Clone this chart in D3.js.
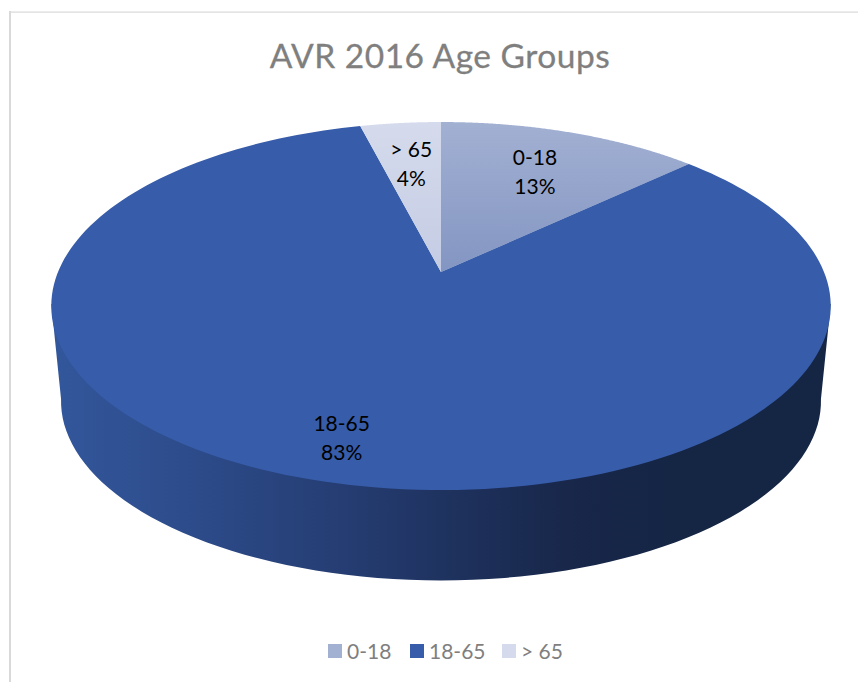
<!DOCTYPE html>
<html>
<head>
<meta charset="utf-8">
<script src="https://cdn.jsdelivr.net/npm/d3@7/dist/d3.min.js"></script>
<style>
html,body{margin:0;padding:0;background:#fff;}
svg{display:block;}
text{font-family:Lato,"Open Sans",sans-serif;}
</style>
</head>
<body>
<div id="chart"></div>
<script>
const chartTitle = "AVR 2016 Age Groups";
const categories = ["0-18", "18-65", "> 65"];
const values = [13, 83, 4];

const width = 858, height = 682;
const cx = 441, apexY = 272, radius = 383, persp = -0.185, spanY = 127.4;
const depthY = 95, depthScale = 0.975;
const labelRadius = [0.69, 0.825, 0.70];
const labelDx = [0, 4, 0];

const svg = d3.select("#chart").append("svg").attr("width", width).attr("height", height);
const defs = svg.append("defs");

function vGrad(id, y1, y2, c1, c2) {
  const g = defs.append("linearGradient").attr("id", id).attr("gradientUnits", "userSpaceOnUse")
    .attr("x1", 0).attr("x2", 0).attr("y1", y1).attr("y2", y2);
  g.append("stop").attr("offset", 0).attr("stop-color", c1);
  g.append("stop").attr("offset", 1).attr("stop-color", c2);
}
vGrad("g0", 122, 272, "#a2b0d2", "#8395c2");
vGrad("g2", 122, 272, "#d5dbec", "#c4cce4");
vGrad("l0", 644, 658, "#a2b0d2", "#8395c2");
vGrad("l2", 644, 658, "#d5dbec", "#c4cce4");
const side = defs.append("linearGradient").attr("id", "side").attr("gradientUnits", "userSpaceOnUse")
  .attr("x1", 51).attr("x2", 831).attr("y1", 0).attr("y2", 0);
[[0, "#33579c"], [0.2, "#2c4a88"], [0.4, "#243b6f"], [0.5, "#1f3360"], [0.66, "#18274a"], [0.8, "#152544"], [1, "#152544"]]
  .forEach(s => side.append("stop").attr("offset", s[0]).attr("stop-color", s[1]));

const fills = ["url(#g0)", "#375ca9", "url(#g2)"];
const legendFills = ["url(#l0)", "#375ca9", "url(#l2)"];

// Perspective projection of the unit disc onto the page
function project(r, a) {
  const u = r * Math.sin(a), v = -r * Math.cos(a), w = 1 + persp * v;
  return [cx + radius * u / w, (apexY + spanY * v) / w];
}
const pie = d3.pie().sort(null).value(d => d);
const arcs = pie(values);
const line = d3.line();
const total = d3.sum(values);

function rim(a0, a1) {
  return d3.range(0, 181).map(i => project(1, a0 + (a1 - a0) * i / 180));
}
const lower = p => [cx + (p[0] - cx) * depthScale, 306 + depthY + (p[1] - 306) * depthScale];

// Side wall: from left extreme of the top rim, along the lower rim front, back to right extreme
const full = rim(0, 2 * Math.PI);
const leftPt = full.reduce((m, p) => p[0] < m[0] ? p : m);
const rightPt = full.reduce((m, p) => p[0] > m[0] ? p : m);
const lowFull = full.map(lower);
const lowLeft = lowFull.reduce((m, p) => p[0] < m[0] ? p : m);
const lowFront = lowFull.filter(p => p[1] >= lowLeft[1]).sort((a, b) => a[0] - b[0]);
svg.append("path")
  .attr("d", line([leftPt, ...lowFront, rightPt]) + "Z")
  .attr("fill", "url(#side)");

// Top faces
svg.selectAll("path.slice").data(arcs).join("path").attr("class", "slice")
  .attr("d", d => line([[cx, apexY], ...rim(d.startAngle, d.endAngle)]) + "Z")
  .attr("fill", (d, i) => fills[i]);

// Chart frame
svg.append("rect").attr("x", 9).attr("y", 11).attr("width", 2).attr("height", height - 11).attr("fill", "#d9d9d9");
svg.append("rect").attr("x", 9).attr("y", 11.5).attr("width", width - 9).attr("height", 1.2).attr("fill", "#d9d9d9");

// Title
svg.append("text").attr("x", 440).attr("y", 67.5).attr("text-anchor", "middle")
  .attr("font-size", 33.5).attr("letter-spacing", 0.5).attr("fill", "#7f7f7f")
  .attr("stroke", "#7f7f7f").attr("stroke-width", 0.3).text(chartTitle);

// Data labels
const labels = svg.selectAll("g.label").data(arcs).join("g").attr("class", "label")
  .attr("transform", (d, i) => {
    const p = project(labelRadius[i], (d.startAngle + d.endAngle) / 2);
    return `translate(${p[0] + labelDx[i]},${p[1]})`;
  });
labels.append("text").attr("text-anchor", "middle").attr("y", -6).attr("font-size", 21).attr("fill", "#000")
  .text((d, i) => categories[i]);
labels.append("text").attr("text-anchor", "middle").attr("y", 23).attr("font-size", 21).attr("fill", "#000")
  .text(d => Math.round(d.value / total * 100) + "%");

// Legend
const legendX = [328, 410, 502];
const lg = svg.selectAll("g.legend").data(categories).join("g").attr("class", "legend")
  .attr("transform", (d, i) => `translate(${legendX[i]},644)`);
lg.append("rect").attr("width", 14).attr("height", 14).attr("fill", (d, i) => legendFills[i]);
lg.append("text").attr("x", 19).attr("y", 14.5).attr("font-size", 21).attr("fill", "#7f7f7f").text(d => d);
</script>
</body>
</html>
